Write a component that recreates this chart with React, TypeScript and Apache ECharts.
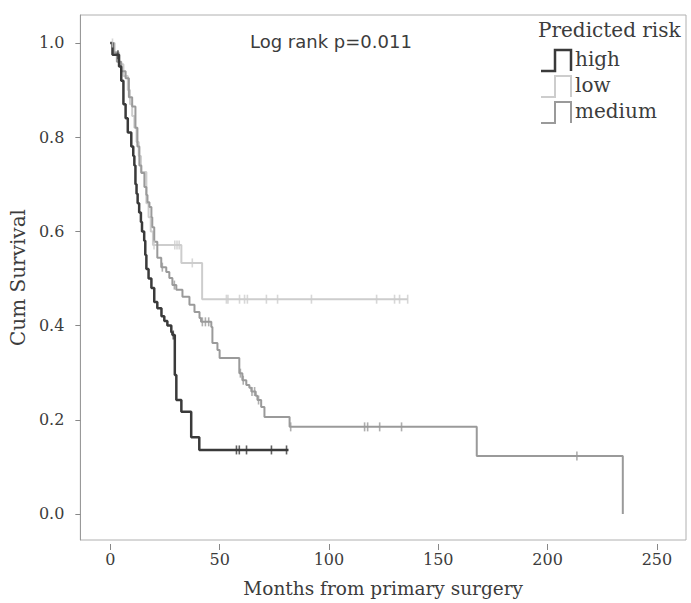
import React, { useEffect, useRef } from "react";
import * as echarts from "echarts";

// Kaplan-Meier steps: [months, cumulative survival after the event]
const highSteps: [number, number][] = [
  [0, 1.0], [1, 0.975], [4, 0.95], [5, 0.92], [6, 0.87], [7, 0.84], [8, 0.81], [9.6, 0.78],
  [10.5, 0.76], [11, 0.74], [11.5, 0.7], [12, 0.68], [12.5, 0.66], [13.2, 0.64], [14, 0.62],
  [14.5, 0.6], [15.5, 0.58], [16, 0.55], [16.5, 0.52], [17.5, 0.5], [18.8, 0.48], [20.1, 0.45],
  [21.5, 0.437], [23.4, 0.42], [24.7, 0.41], [26.1, 0.4], [27.9, 0.386], [28.4, 0.38],
  [29.5, 0.295], [30.2, 0.242], [32.5, 0.217], [37, 0.163], [40.7, 0.136], [81.5, 0.136],
];
const highCensor: [number, number][] = [
  [3.5, 0.975], [28.8, 0.38], [57.7, 0.136], [59, 0.136], [62.3, 0.136], [73.7, 0.136], [80.6, 0.136],
];

const lowSteps: [number, number][] = [
  [0, 1.0], [2, 0.98], [4, 0.955], [6, 0.93], [8, 0.9], [9, 0.87], [10, 0.845], [11, 0.82],
  [12, 0.79], [13, 0.76], [14, 0.726], [16.5, 0.66], [17.5, 0.63], [18.5, 0.6], [19.5, 0.571],
  [32.5, 0.533], [42, 0.456], [136, 0.456],
];
const lowCensor: [number, number][] = [
  [1, 1.0], [20, 0.571], [29.5, 0.571], [30.5, 0.571], [31.5, 0.571], [37.5, 0.533],
  [53.1, 0.456], [53.8, 0.456], [59.1, 0.456], [61.4, 0.456], [62.7, 0.456], [71.4, 0.456],
  [76.5, 0.456], [92, 0.456], [121.8, 0.456], [130, 0.456], [132.3, 0.456], [136, 0.456],
];

const mediumSteps: [number, number][] = [
  [0, 1.0], [1.5, 0.98], [3, 0.96], [5, 0.94], [7, 0.925], [8.5, 0.885], [10, 0.865],
  [11.5, 0.82], [12.4, 0.78], [13.3, 0.74], [14.2, 0.724], [15.6, 0.694], [16.5, 0.677],
  [17, 0.662], [17.9, 0.652], [18.8, 0.63], [19.2, 0.609], [20.1, 0.578], [21.5, 0.544],
  [23.3, 0.524], [25.6, 0.514], [27, 0.501], [28.4, 0.486], [30.2, 0.476], [33, 0.461],
  [36.2, 0.444], [38.5, 0.429], [40.8, 0.416], [41.5, 0.408], [46.2, 0.397], [46.7, 0.363],
  [49, 0.348], [50, 0.331], [59, 0.299], [60.4, 0.284], [62.2, 0.274], [63.6, 0.268],
  [64.5, 0.26], [66.5, 0.251], [67.3, 0.242], [69, 0.227], [70.5, 0.206], [82, 0.185],
  [167.6, 0.123], [234.4, 0.0],
];
const mediumCensor: [number, number][] = [
  [23.8, 0.524], [29.3, 0.486], [42.1, 0.408], [43.5, 0.408], [45, 0.408], [59.5, 0.299],
  [60.8, 0.284], [64.8, 0.26], [66, 0.26], [67.8, 0.242], [82.5, 0.185], [116.3, 0.185],
  [117.7, 0.185], [123.2, 0.185], [133.2, 0.185], [213.4, 0.123],
];

const xTicks = [0, 50, 100, 150, 200, 250];
const yTicks = [0, 0.2, 0.4, 0.6, 0.8, 1.0];
const groupNames = ["high", "low", "medium"];

const FONT = "DejaVu Serif";
const TEXT = "#3c3c3c";
const C_HIGH = "#3a3a3a";
const C_LOW = "#cdcdcd";
const C_MED = "#9a9a9a";

function stepIcon(x: number, yBottom: number, color: string, width: number) {
  return {
    type: "polyline",
    shape: {
      points: [
        [x, yBottom],
        [x + 14, yBottom],
        [x + 14, yBottom - 21],
        [x + 30, yBottom - 21],
        [x + 30, yBottom],
      ],
    },
    style: { stroke: color, lineWidth: width, fill: null },
    silent: true,
  };
}

export default function App() {
  const ref = useRef<HTMLDivElement>(null);
  useEffect(() => {
    document.body.style.margin = "0";
    const chart = echarts.init(ref.current!, null, { renderer: "svg" });
    const lineSeries = (name: string, data: [number, number][], color: string, w: number) => ({
      name,
      type: "line",
      step: "end",
      data,
      showSymbol: false,
      symbol: "none",
      lineStyle: { color, width: w },
      itemStyle: { color },
      z: 2,
    });
    const censorSeries = (name: string, data: [number, number][], color: string) => ({
      name: name + " censored",
      type: "scatter",
      data,
      symbol: "rect",
      symbolSize: [1.6, 9],
      itemStyle: { color },
      z: 3,
    });
    const legendColors = [C_HIGH, C_LOW, C_MED];
    const legendWidths = [2.5, 2, 2];
    const graphics: any[] = [
      {
        type: "text",
        left: 538,
        top: 20,
        style: { text: "Predicted risk", font: `20px "${FONT}"`, fill: TEXT },
      },
      {
        type: "text",
        left: 250,
        top: 32,
        style: { text: "Log rank p=0.011", font: `18px "DejaVu Sans"`, fill: TEXT },
      },
    ];
    groupNames.forEach((n, i) => {
      const yb = 71 + i * 26;
      graphics.push(stepIcon(541, yb, legendColors[i], legendWidths[i]));
      graphics.push({
        type: "text",
        left: 575,
        top: yb - 22,
        style: { text: n, font: `20px "${FONT}"`, fill: TEXT },
      });
    });

    chart.setOption({
      animation: false,
      backgroundColor: "#ffffff",
      grid: {
        left: 80,
        right: 5,
        top: 15,
        bottom: 63,
        show: true,
        borderColor: "#b0b0b0",
        borderWidth: 1,
        containLabel: false,
      },
      xAxis: {
        type: "value",
        min: -13.7,
        max: 263.3,
        offset: 4,
        axisLine: { show: false, onZero: false },
        axisTick: { show: true, length: 6, customValues: xTicks, lineStyle: { color: "#888" } },
        axisLabel: {
          customValues: xTicks,
          margin: 7,
          color: TEXT,
          fontFamily: FONT,
          fontSize: 16,
        },
        splitLine: { show: false },
        name: "Months from primary surgery",
        nameLocation: "middle",
        nameGap: 35,
        nameTextStyle: { color: TEXT, fontFamily: FONT, fontSize: 18.5 },
      },
      yAxis: {
        type: "value",
        min: -0.0552,
        max: 1.0594,
        axisLine: { show: true, onZero: false, lineStyle: { color: "#999" } },
        axisTick: { show: true, length: 5, customValues: yTicks, lineStyle: { color: "#888" } },
        axisLabel: {
          customValues: yTicks,
          margin: 16,
          color: TEXT,
          fontFamily: FONT,
          fontSize: 16,
          formatter: (v: number) => v.toFixed(1),
        },
        splitLine: { show: false },
        name: "Cum Survival",
        nameLocation: "middle",
        nameGap: 50,
        nameTextStyle: { color: TEXT, fontFamily: FONT, fontSize: 20 },
      },
      series: [
        lineSeries("low", lowSteps, C_LOW, 2),
        censorSeries("low", lowCensor, C_LOW),
        lineSeries("medium", mediumSteps, C_MED, 2),
        censorSeries("medium", mediumCensor, C_MED),
        lineSeries("high", highSteps, C_HIGH, 2.5),
        censorSeries("high", highCensor, C_HIGH),
      ],
      graphic: graphics,
    });
    return () => chart.dispose();
  }, []);
  return <div ref={ref} style={{ width: 691, height: 603 }} />;
}
